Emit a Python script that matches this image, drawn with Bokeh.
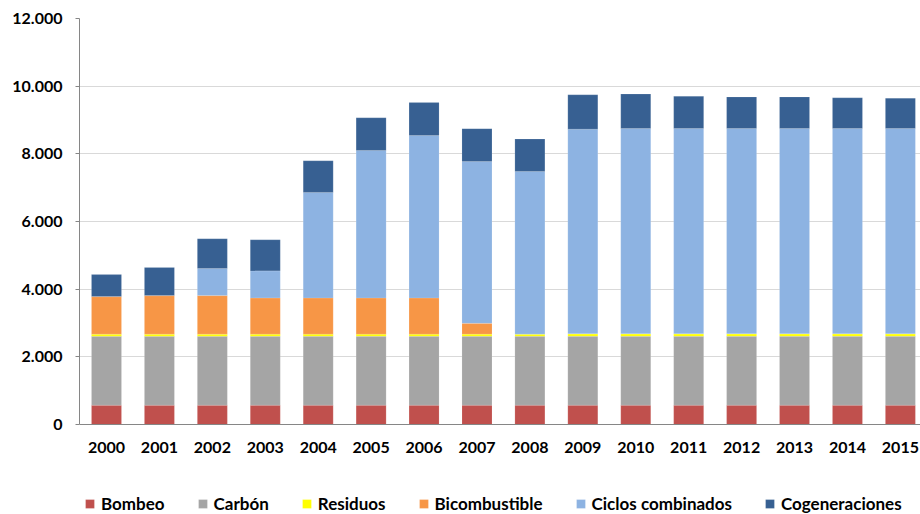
from bokeh.plotting import figure
from bokeh.models import (ColumnDataSource, Range1d, FixedTicker, CustomJSTickFormatter,
                          Legend, LegendItem, Span)
from bokeh.core.properties import value
from bokeh.embed import file_html
from bokeh.resources import INLINE

years = [2000, 2001, 2002, 2003, 2004, 2005, 2006, 2007,
         2008, 2009, 2010, 2011, 2012, 2013, 2014, 2015]
bombeo = [570, 570, 570, 570, 570, 570, 570, 570,
          570, 570, 570, 570, 570, 570, 570, 570]
carbon = [2040, 2040, 2040, 2040, 2040, 2040, 2040, 2040,
          2040, 2040, 2040, 2040, 2040, 2040, 2040, 2040]
residuos = [60, 60, 60, 60, 60, 60, 60, 60,
            60, 70, 70, 70, 70, 70, 70, 70]
bicombustible = [1110, 1140, 1140, 1070, 1070, 1070, 1070, 320,
                 0, 0, 0, 0, 0, 0, 0, 0]
ciclos = [0, 0, 800, 800, 3120, 4360, 4800, 4780,
          4810, 6050, 6070, 6070, 6070, 6070, 6070, 6070]
cogeneraciones = [650, 830, 880, 920, 935, 965, 975, 975,
                  955, 1015, 1015, 950, 930, 930, 905, 895]
y_ticks = [0, 2000, 4000, 6000, 8000, 10000, 12000]

series_names = ["Bombeo", "Carbón", "Residuos", "Bicombustible",
                "Ciclos combinados", "Cogeneraciones"]
colors = ["#C0504D", "#A5A5A5", "#FFFF00", "#F79646", "#8DB3E2", "#376092"]
keys = ["bombeo", "carbon", "residuos", "bicombustible", "ciclos", "cogeneraciones"]

source = ColumnDataSource(dict(
    x=years, bombeo=bombeo, carbon=carbon, residuos=residuos,
    bicombustible=bicombustible, ciclos=ciclos, cogeneraciones=cogeneraciones,
    label=[str(y) for y in years], base=[0] * len(years)))

FONT = "Lato"

# frame spans from y=18 to the bottom of the window; 0 sits 90 px above the bottom
y_min = -max(y_ticks) * 90 / 406
p = figure(width=920, height=514, output_backend="svg", toolbar_location=None,
           x_range=Range1d(1999.49, 2015.38), y_range=Range1d(y_min, max(y_ticks)),
           x_axis_location=None,
           min_border_left=79, min_border_right=0, min_border_top=18,
           min_border_bottom=0)
p.outline_line_color = None
p.background_fill_color = "white"
p.border_fill_color = "white"

renderers = p.vbar_stack(keys, x="x", width=0.567, source=source, color=colors,
                         line_color="white", line_width=0.5, line_alpha=0.25)

# x axis baseline and year labels
p.add_layout(Span(location=0, dimension="width", line_color="#868686", line_width=1))
p.text(x="x", y="base", text="label", source=source, text_align="center",
       text_baseline="middle", y_offset=23, text_font=value(FONT),
       text_font_style="bold", text_font_size="16px", text_color="#000000")

# y axis
p.yaxis.ticker = FixedTicker(ticks=y_ticks)
p.yaxis.bounds = (0, max(y_ticks))
p.yaxis.formatter = CustomJSTickFormatter(code="""
    return Math.round(tick).toString().replace(/\\B(?=(\\d{3})+(?!\\d))/g, ".");
""")
p.yaxis.axis_line_color = "#868686"
p.yaxis.major_tick_line_color = "#868686"
p.yaxis.major_tick_out = 4
p.yaxis.major_tick_in = 0
p.yaxis.minor_tick_line_color = None
p.yaxis.major_label_standoff = 13
p.yaxis.major_label_text_font = FONT
p.yaxis.major_label_text_font_style = "bold"
p.yaxis.major_label_text_font_size = "16px"
p.yaxis.major_label_text_color = "#000000"

p.xgrid.grid_line_color = None
p.ygrid.grid_line_color = "#D9D9D9"
p.ygrid.grid_line_width = 1

items = [LegendItem(label=n, renderers=[r]) for n, r in zip(series_names, renderers)]
legend = Legend(items=items, orientation="horizontal", location=(5, 0),
                glyph_width=11, glyph_height=11, label_standoff=6, spacing=32,
                padding=0, margin=0, label_height=20,
                label_text_font=FONT, label_text_font_style="bold",
                label_text_font_size="17px", label_text_color="#000000",
                border_line_color=None, background_fill_alpha=0)
p.add_layout(legend, "center")

open("out.html", "w").write(file_html(p, INLINE))
